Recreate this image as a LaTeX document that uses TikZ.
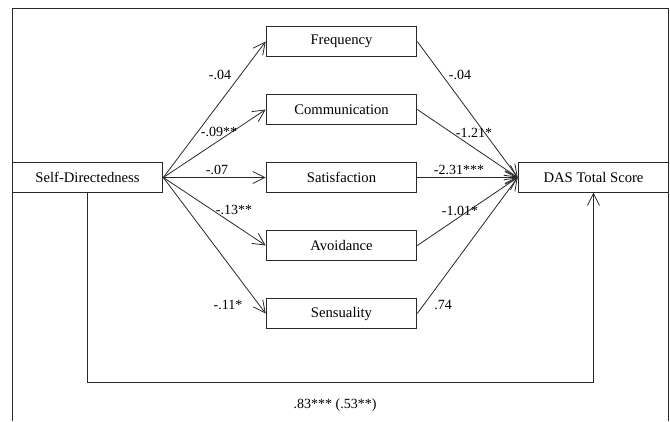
\documentclass[tikz,border=0pt]{standalone}
\usepackage{fontspec}
\setmainfont{Liberation Serif}
\usetikzlibrary{arrows.meta}
\definecolor{framegray}{RGB}{40,40,40}

\tikzset{
  varbox/.style={draw=framegray, line width=0.7pt, minimum width=113pt, minimum height=22pt, inner sep=0pt, font=\fontsize{11}{13}\selectfont},
  path/.style={draw=framegray, line width=0.6pt, -{Straight Barb[length=9pt,width=9pt,line width=0.6pt]}},
  coef/.style={font=\fontsize{10.5}{12}\selectfont, inner sep=0pt}
}

\begin{document}
\begin{tikzpicture}[x=0.75pt,y=-0.75pt]
\useasboundingbox (0,0) rectangle (670,421);
% outer frame, open at the bottom
\draw[framegray, line width=0.7pt] (12,421) -- (12,8) -- (668,8) -- (668,421);
% Boxes
\node[varbox] (sd) at (87.5,177.5) {Self-Directedness};
\node[varbox] (freq) at (341.5,41.5) {Frequency};
\node[varbox] (comm) at (341.5,109.5) {Communication};
\node[varbox] (sat) at (341.5,177.5) {Satisfaction};
\node[varbox] (avoid) at (341.5,245.5) {Avoidance};
\node[varbox] (sens) at (341.5,313.5) {Sensuality};
\node[varbox] (das) at (593.5,177.5) {DAS Total Score};
% Paths from Self-Directedness
\foreach \m in {freq,comm,sat,avoid,sens}
  \draw[path] (sd.east) -- (\m.west);
% Paths to DAS Total Score
\foreach \m in {freq,comm,sat,avoid,sens}
  \draw[path] (\m.east) -- (das.west);
% Direct path
\coordinate (dl) at (87.5,382);
\coordinate (dr) at (593.5,382);
\draw[path] (sd.south) -- (dl) -- (dr) -- (das.south);
% Labels
\node[coef] (a1) at (220,75) {-.04};
\node[coef] (a2) at (219,132) {-.09**};
\node[coef] (a3) at (217,170) {-.07};
\node[coef] (a4) at (234,210) {-.13**};
\node[coef] (a5) at (228,305) {-.11*};
\node[coef] (b1) at (460,75) {-.04};
\node[coef] (b2) at (474,133) {-1.21*};
\node[coef] (b3) at (459,170) {-2.31***};
\node[coef] (b4) at (460,211) {-1.01*};
\node[coef] (b5) at (443,305) {.74};
\node[coef] (c) at (335,405) {.83*** (.53**)};
\end{tikzpicture}
\end{document}
